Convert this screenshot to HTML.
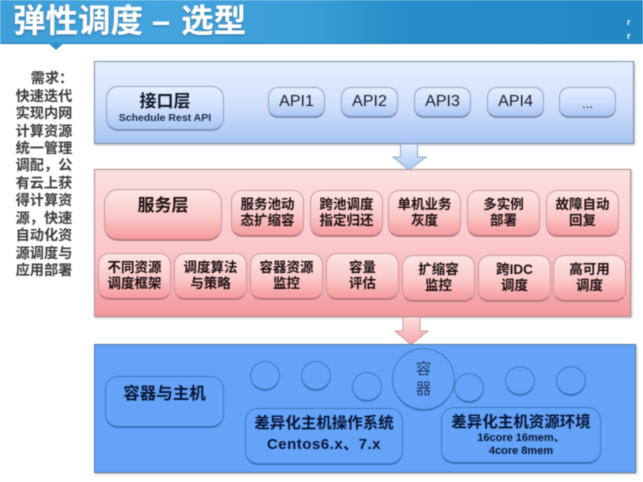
<!DOCTYPE html>
<html><head><meta charset="utf-8">
<style>
html,body{margin:0;padding:0;background:#fff}
#p{position:relative;width:643px;height:482px;overflow:hidden;background:#fff;font-family:"Liberation Sans","Noto Sans CJK SC",sans-serif;filter:blur(.45px)}
#p div{position:absolute;box-sizing:border-box}
.hd{left:0;top:0;width:643px;height:44px;background:linear-gradient(90deg,#3f9fd8 0,#45a5de 25%,#3a9cd6 50%,#2a8cc8 62%,#2188c4 100%);border-bottom:1px solid #1f74a8}
.t{left:13px;top:0;height:44px;line-height:43px;font-size:32.5px;font-weight:700;color:#fff;white-space:nowrap;text-shadow:0 1px 2px rgba(20,70,110,.6),0 0 1px #fff}
.side{left:14px;width:60px;text-align:center;font-size:14.2px;font-weight:700;color:#3c3c3c;line-height:17px;white-space:nowrap}
.panel{border:1px solid #7d8ea8;box-shadow:1px 1px 2px rgba(90,90,90,.45)}
.b{border-radius:10px;display:flex;align-items:center;justify-content:center;text-align:center;position:absolute}
.ab{background:linear-gradient(180deg,#e4eeff 0,#cfdffb 50%,#aac6f4 100%);border:1.5px solid #8ea3c6;border-bottom:2.5px solid #7b92b8;color:#141c2c;font-size:16px}
.rb{background:linear-gradient(180deg,#fde4e4 0,#fbc9c9 55%,#f59a9e 100%);border:1.5px solid #c79a9c;border-bottom:2.5px solid #b77c80;color:#1c0f0f;font-size:13.5px;font-weight:700;line-height:16px;border-radius:11px}
.lb{background:#64a3f7;border:1.5px solid #3f79bf;border-bottom:2.5px solid #3a72b8;color:#081638;font-weight:700;border-radius:13px}
.c{border-radius:50%;background:#64a3f7;border:1.5px solid #3f79bf;border-bottom:2.5px solid #3a72b8}
</style></head><body>
<div id="p">
<div class="hd"></div>
<svg style="position:absolute;left:45px;top:43px" width="22" height="9"><polygon points="3,0 19,0 11,7" fill="#2f8fc8"/></svg>
<div class="t">弹性调度 – <span style="margin-left:2px">选型</span></div>
<div style="left:627px;top:15px;color:#fff;font-size:9px;line-height:14px;font-weight:700">r<br>r</div>

<div class="side" style="top:71px;left:18px">&nbsp;&nbsp;需求：</div>
<div class="side" style="top:89px">快速迭代</div>
<div class="side" style="top:106px">实现内网</div>
<div class="side" style="top:124px">计算资源</div>
<div class="side" style="top:141px">统一管理</div>
<div class="side" style="top:158px">调配，公</div>
<div class="side" style="top:176px">有云上获</div>
<div class="side" style="top:193px">得计算资</div>
<div class="side" style="top:211px">源，快速</div>
<div class="side" style="top:228px">自动化资</div>
<div class="side" style="top:246px">源调度与</div>
<div class="side" style="top:263px">应用部署</div>

<div class="panel" style="left:94px;top:61px;width:540px;height:83px;background:linear-gradient(180deg,#e3edfd 0,#d3e1fb 50%,#a9c4f3 100%)"></div>
<div class="b ab" style="left:106px;top:86px;width:118px;height:45px;border-radius:12px;display:block;padding-top:4px;color:#111a2a"><span style="display:block;font-size:17px;font-weight:700;line-height:21px">接口层</span><span style="display:block;font-size:10.5px;font-weight:700;line-height:13px;white-space:nowrap;color:#1a2b4a">Schedule Rest API</span></div>
<div class="b ab" style="left:268px;top:87px;width:57px;height:31px">API1</div>
<div class="b ab" style="left:341px;top:87px;width:57px;height:31px">API2</div>
<div class="b ab" style="left:414px;top:87px;width:57px;height:31px">API3</div>
<div class="b ab" style="left:487px;top:87px;width:57px;height:31px">API4</div>
<div class="b ab" style="left:559px;top:87px;width:57px;height:31px;font-size:13px;padding-top:2px">...</div>

<div class="panel" style="left:94px;top:169px;width:537px;height:148px;background:linear-gradient(180deg,#fde0e0 0,#fbc6c8 55%,#f4999e 100%);border-color:#b38d8d"></div>
<div class="b rb" style="left:104px;top:189px;width:118px;height:52px;font-size:17px;border-radius:14px;padding-bottom:17px;align-items:center">服务层</div>
<div class="b rb" style="left:231px;top:190px;width:73px;height:47px">服务池动<br>态扩缩容</div>
<div class="b rb" style="left:310px;top:190px;width:73px;height:47px">跨池调度<br>指定归还</div>
<div class="b rb" style="left:388px;top:190px;width:73px;height:47px">单机业务<br>灰度</div>
<div class="b rb" style="left:467px;top:190px;width:73px;height:47px">多实例<br>部署</div>
<div class="b rb" style="left:546px;top:190px;width:73px;height:47px">故障自动<br>回复</div>
<div class="b rb" style="left:98px;top:253px;width:73px;height:47px">不同资源<br>调度框架</div>
<div class="b rb" style="left:174px;top:253px;width:73px;height:47px">调度算法<br>与策略</div>
<div class="b rb" style="left:250px;top:253px;width:73px;height:47px">容器资源<br>监控</div>
<div class="b rb" style="left:326px;top:253px;width:73px;height:47px">容量<br>评估</div>
<div class="b rb" style="left:402px;top:255px;width:73px;height:47px">扩缩容<br>监控</div>
<div class="b rb" style="left:478px;top:255px;width:73px;height:47px">跨IDC<br>调度</div>
<div class="b rb" style="left:553px;top:255px;width:73px;height:47px">高可用<br>调度</div>

<svg style="position:absolute;left:390px;top:143px" width="40" height="29"><defs><linearGradient id="g1" x1="0" y1="0" x2="0" y2="1"><stop offset="0" stop-color="#e8f0fd"/><stop offset="1" stop-color="#a9c6f3"/></linearGradient></defs><polygon points="10.5,1 27.5,1 27.5,14 36,14 19,27 3,14 10.5,14" fill="url(#g1)" stroke="#8fa9c8" stroke-width="1"/></svg>
<svg style="position:absolute;left:392px;top:316px" width="40" height="30"><defs><linearGradient id="g2" x1="0" y1="0" x2="0" y2="1"><stop offset="0" stop-color="#fde0e0"/><stop offset="1" stop-color="#f7a5a8"/></linearGradient></defs><polygon points="11,1 28,1 28,15 36,15 19,28.5 3,15 11,15" fill="url(#g2)" stroke="#c99a9a" stroke-width="1"/></svg>

<div class="panel" style="left:94px;top:344px;width:542px;height:129px;background:#64a3f7;border-color:#54789f"></div>
<div class="b lb" style="left:105px;top:376px;width:119px;height:52px;font-size:16.5px;padding-bottom:20px">容器与主机</div>
<div class="c" style="left:250px;top:361px;width:30px;height:30px"></div>
<div class="c" style="left:301px;top:361px;width:30px;height:30px"></div>
<div class="c" style="left:352px;top:372px;width:30px;height:30px"></div>
<div class="c" style="left:454px;top:373px;width:30px;height:30px"></div>
<div class="c" style="left:505px;top:366px;width:30px;height:30px"></div>
<div class="c" style="left:556px;top:366px;width:30px;height:30px"></div>
<div class="b lb" style="left:245px;top:408px;width:158px;height:57px;display:block;padding-top:4px;font-size:15.5px;line-height:21px;white-space:nowrap">差异化主机操作系统<br><span style="font-size:15px;letter-spacing:.5px">Centos6.x、7.x</span></div>
<div class="b lb" style="left:441px;top:407px;width:160px;height:57px;display:block;padding-top:5px;white-space:nowrap"><span style="display:block;font-size:15.5px;line-height:20px">差异化主机资源环境</span><span style="display:block;font-size:11px;line-height:12.5px;margin-top:-1px">16core 16mem、<br>4core 8mem</span></div>
<div class="c" style="left:392px;top:348px;width:63px;height:63px;font-size:15.5px;line-height:20px;color:#233a63;text-align:center;padding-top:11px">容<br>器</div>
</div>
</body></html>
